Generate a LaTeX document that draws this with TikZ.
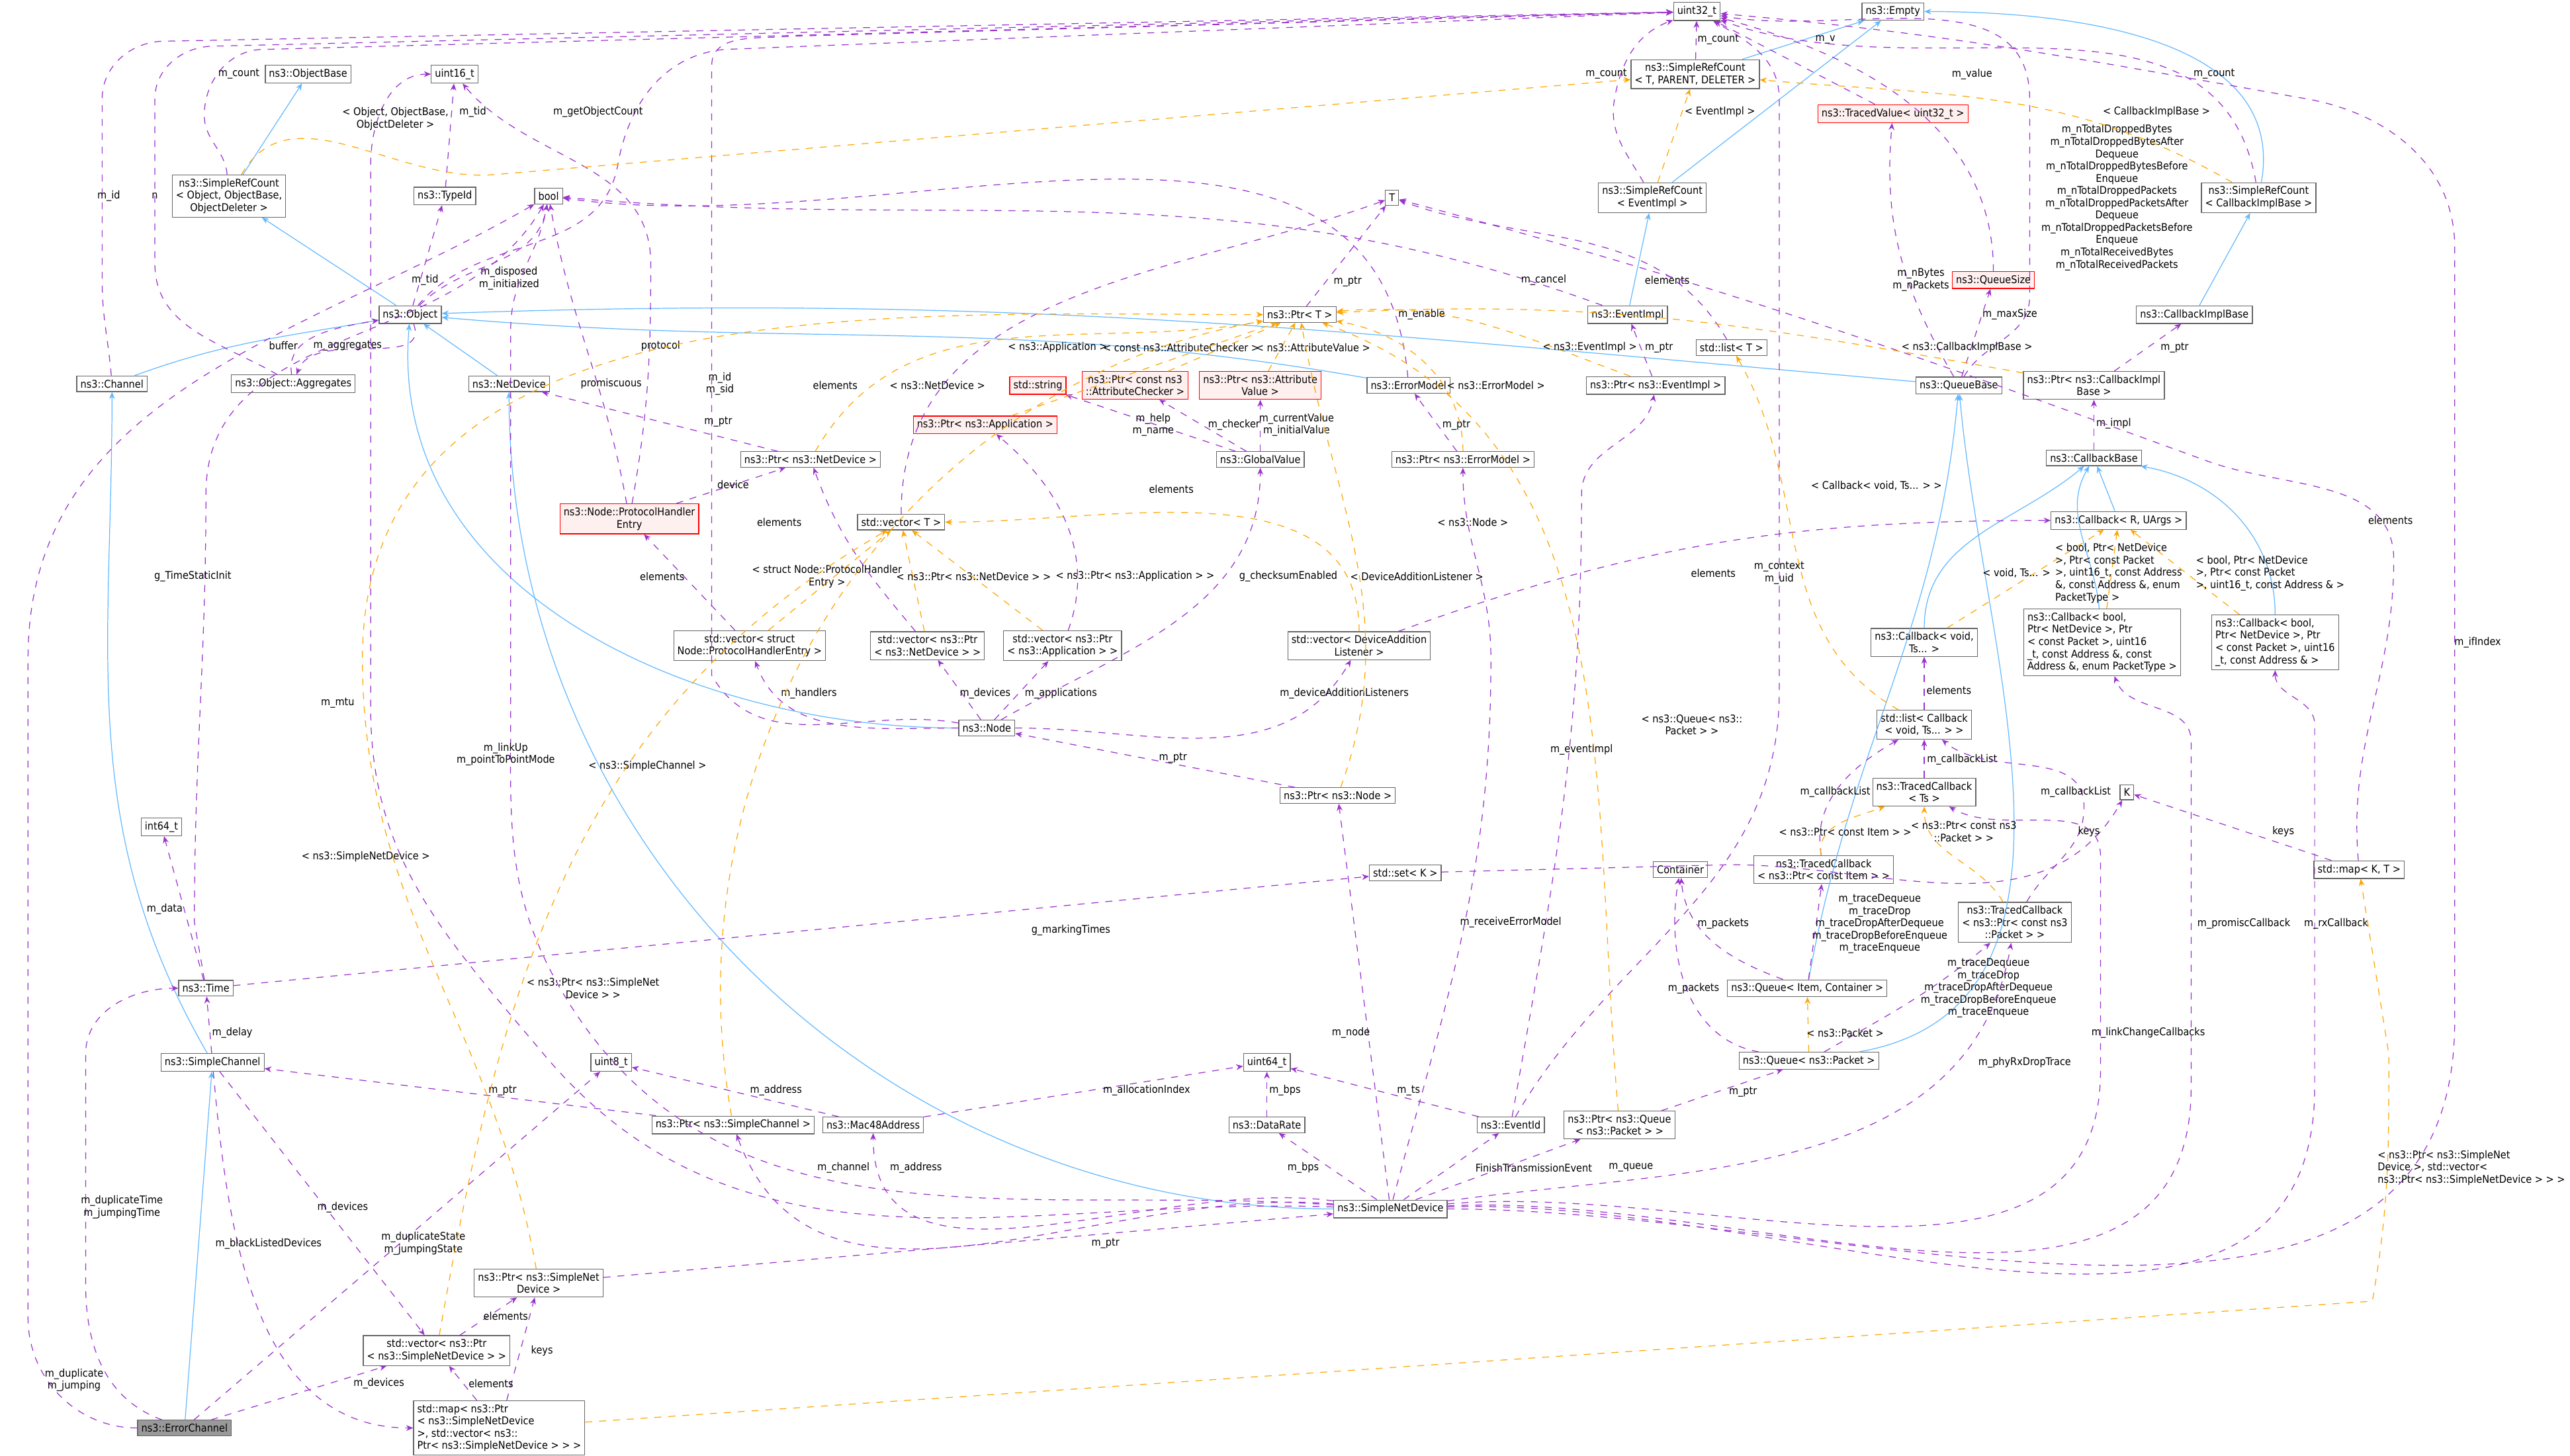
\documentclass[tikz,border=0pt]{standalone}
\usepackage{fontspec}
\setmainfont{DejaVu Sans Condensed}
\usetikzlibrary{arrows.meta}
\definecolor{usec}{HTML}{9A32CD}
\definecolor{tplc}{HTML}{FFA500}
\definecolor{inhc}{HTML}{63B8FF}
\begin{document}
\begin{tikzpicture}[x=0.025cm,y=-0.025cm,
  bx/.style={draw=black!60,fill=white,line width=0.35pt,inner sep=1.6pt,font=\fontsize{4.6}{5.3}\selectfont,align=center},
  rbx/.style={bx,draw=red,fill=red!6},
  gbx/.style={bx,fill=black!40},
  use/.style={draw=usec,dashed,line width=0.35pt,-{Stealth[length=3pt,width=2.5pt]}},
  tpl/.style={draw=tplc,dashed,line width=0.35pt,-{Stealth[length=3pt,width=2.5pt]}},
  inh/.style={draw=inhc,line width=0.35pt,-{Stealth[length=3pt,width=2.5pt]}},
  lbl/.style={font=\fontsize{4.6}{5.3}\selectfont,align=center,inner sep=0.5pt}]
\useasboundingbox (0,0) rectangle (1560,884);
% nodes
\node[bx] (u32) at (1030,7) {uint32\_t};
\node[bx] (empty) at (1149,7) {ns3::Empty};
\node[bx] (srct) at (1029,45) {ns3::SimpleRefCount\\< T, PARENT, DELETER >};
\node[bx] (objb) at (187,45) {ns3::ObjectBase};
\node[bx] (u16) at (276,45) {uint16\_t};
\node[bx] (srco) at (139,119) {ns3::SimpleRefCount\\< Object, ObjectBase,\\ObjectDeleter >};
\node[bx] (tid) at (270,119) {ns3::TypeId};
\node[bx] (bool) at (333,119) {bool};
\node[bx] (T) at (845,120) {T};
\node[rbx] (tv) at (1149,69) {ns3::TracedValue< uint32\_t >};
\node[bx] (srce) at (1003,120) {ns3::SimpleRefCount\\< EventImpl >};
\node[bx] (srcc) at (1371,120) {ns3::SimpleRefCount\\< CallbackImplBase >};
\node[bx] (obj) at (249,191) {ns3::Object};
\node[bx] (chan) at (68,233) {ns3::Channel};
\node[bx] (agg) at (178,233) {ns3::Object::Aggregates};
\node[bx] (nd) at (309,233) {ns3::NetDevice};
\node[bx] (ptrT) at (789,191) {ns3::Ptr< T >};
\node[bx] (evi) at (988,191) {ns3::EventImpl};
\node[rbx] (qs) at (1210,170) {ns3::QueueSize};
\node[bx] (listT) at (1051,211) {std::list< T >};
\node[bx] (cib) at (1332,191) {ns3::CallbackImplBase};
\node[bx] (em) at (855,234) {ns3::ErrorModel};
\node[bx] (pevi) at (1005,234) {ns3::Ptr< ns3::EventImpl >};
\node[bx] (qb) at (1189,234) {ns3::QueueBase};
\node[bx] (pcib) at (1271,234) {ns3::Ptr< ns3::CallbackImpl\\Base >};
\node[rbx] (str) at (630,234) {std::string};
\node[rbx] (pac) at (689,234) {ns3::Ptr< const ns3\\::AttributeChecker >};
\node[rbx] (pav) at (765,234) {ns3::Ptr< ns3::Attribute\\Value >};
\node[bx] (pnd) at (492,279) {ns3::Ptr< ns3::NetDevice >};
\node[rbx] (papp) at (598,258) {ns3::Ptr< ns3::Application >};
\node[bx] (gv) at (765,279) {ns3::GlobalValue};
\node[bx] (pem) at (888,279) {ns3::Ptr< ns3::ErrorModel >};
\node[bx] (cb) at (1271,278) {ns3::CallbackBase};
\node[rbx] (phe) at (382,315) {ns3::Node::ProtocolHandler\\Entry};
\node[bx] (vecT) at (547,317) {std::vector< T >};
\node[bx] (cbr) at (1286,316) {ns3::Callback< R, UArgs >};
\node[bx] (vphe) at (455,392) {std::vector< struct\\Node::ProtocolHandlerEntry >};
\node[bx] (vpnd) at (563,392) {std::vector< ns3::Ptr\\< ns3::NetDevice > >};
\node[bx] (vpapp) at (645,392) {std::vector< ns3::Ptr\\< ns3::Application > >};
\node[bx] (vdal) at (825,392) {std::vector< DeviceAddition\\Listener >};
\node[bx] (cbv) at (1168,390) {ns3::Callback< void,\\Ts... >};
\node[bx,align=left] (cbf) at (1276,390) {ns3::Callback< bool,\\ Ptr< NetDevice >, Ptr\\< const Packet >, uint16\\\_t, const Address \&, const\\ Address \&, enum PacketType >};
\node[bx,align=left] (cb5) at (1381,390) {ns3::Callback< bool,\\ Ptr< NetDevice >, Ptr\\< const Packet >, uint16\\\_t, const Address \& >};
\node[bx] (node) at (599,442) {ns3::Node};
\node[bx] (lcb) at (1168,440) {std::list< Callback\\< void, Ts... > >};
\node[bx] (pnode) at (812,483) {ns3::Ptr< ns3::Node >};
\node[bx] (tcts) at (1168,481) {ns3::TracedCallback\\< Ts >};
\node[bx] (K) at (1291,481) {K};
\node[bx] (i64) at (98,502) {int64\_t};
\node[bx] (setK) at (853,530) {std::set< K >};
\node[bx] (cont) at (1020,528) {Container};
\node[bx] (tci) at (1107,528) {ns3::TracedCallback\\< ns3::Ptr< const Item > >};
\node[bx] (tcp) at (1223,560) {ns3::TracedCallback\\< ns3::Ptr< const ns3\\::Packet > >};
\node[bx] (mapKT) at (1432,528) {std::map< K, T >};
\node[bx] (time) at (125,600) {ns3::Time};
\node[bx] (qic) at (1097,600) {ns3::Queue< Item, Container >};
\node[bx] (sch) at (129,645) {ns3::SimpleChannel};
\node[bx] (u8) at (371,645) {uint8\_t};
\node[bx] (psch) at (445,683) {ns3::Ptr< ns3::SimpleChannel >};
\node[bx] (mac) at (530,683) {ns3::Mac48Address};
\node[bx] (u64) at (769,645) {uint64\_t};
\node[bx] (dr) at (769,683) {ns3::DataRate};
\node[bx] (qp) at (1098,644) {ns3::Queue< ns3::Packet >};
\node[bx] (eid) at (917,683) {ns3::EventId};
\node[bx] (pqp) at (983,683) {ns3::Ptr< ns3::Queue\\< ns3::Packet > >};
\node[bx] (snd) at (844,734) {ns3::SimpleNetDevice};
\node[bx] (psnd) at (327,779) {ns3::Ptr< ns3::SimpleNet\\Device >};
\node[bx] (vpsnd) at (265,820) {std::vector< ns3::Ptr\\< ns3::SimpleNetDevice > >};
\node[gbx] (ech) at (112,867) {ns3::ErrorChannel};
\node[bx,align=left] (mpsnd) at (303,867) {std::map< ns3::Ptr\\< ns3::SimpleNetDevice\\ >, std::vector< ns3::\\Ptr< ns3::SimpleNetDevice > > >};
\coordinate (mpa) at (1440,790);
\coordinate (mpb) at (1450,640);
% inheritance
\draw[inh] (srct) -- (empty);
\draw[inh] (srco) -- (objb);
\draw[inh] (obj) -- (srco);
\draw[inh] (chan) to[out=20,in=190] (obj);
\draw[inh] (nd) -- (obj);
\draw[inh] (node) to[out=180,in=-95] (obj);
\draw[inh] (em) to[out=170,in=-5] (obj);
\draw[inh] (qb) to[out=175,in=2] (obj);
\draw[inh] (srce) -- (empty);
\draw[inh] (evi) -- (srce);
\draw[inh] (srcc) to[out=80,in=0] (empty);
\draw[inh] (cib) -- (srcc);
\draw[inh] (cbr) -- (cb);
\draw[inh] (cbv) to[out=90,in=-140] (cb);
\draw[inh] (cbf) to[out=95,in=-120] (cb);
\draw[inh] (cb5) to[out=90,in=-10] (cb);
\draw[inh] (qic) to[out=80,in=-95] (qb);
\draw[inh] (qp) to[out=10,in=-85] (qb);
\draw[inh] (sch) to[out=120,in=-90] (chan);
\draw[inh] (snd) to[out=180,in=-90] (nd);
\draw[inh] (ech) -- (sch);
% usage
\draw[use] (srct) -- (u32); \node[lbl] at (1043,24) {m\_count};
\draw[use] (srco) to[out=95,in=-90] (124,70) to[out=90,in=180] (160,30) -- (u32); \node[lbl] at (145,45) {m\_count};
\draw[use] (agg) to[out=150,in=-90] (94,160) -- (94,60) to[out=90,in=180] (130,28) -- (u32); \node[lbl] at (94,119) {n};
\draw[use] (chan) to[out=95,in=-90] (62,170) -- (62,60) to[out=90,in=180] (100,25) -- (u32); \node[lbl] at (66,119) {m\_id};
\draw[use] (obj) to[out=45,in=-100] (bool); \node[lbl] at (309,169) {m\_disposed\\m\_initialized};
\draw[use] (obj) -- (tid); \node[lbl] at (258,170) {m\_tid};
\draw[use] (tid) -- (u16); \node[lbl] at (287,68) {m\_tid};
\draw[use] (agg) to[out=100,in=190] (obj); \node[lbl] at (172,210) {buffer};
\draw[use] (obj) to[out=-70,in=70] (agg); \node[lbl] at (211,210) {m\_aggregates};
\draw[use] (obj) to[out=50,in=-100] (375,100) to[out=80,in=185] (440,30) -- (u32); \node[lbl] at (363,68) {m\_getObjectCount};
\draw[use] (tv) -- (u32); \node[lbl] at (1108,24) {m\_v};
\draw[use] (srce) to[out=120,in=-100] (980,60) to[out=80,in=200] (u32); \node[lbl] at (975,45) {m\_count};
\draw[use] (srcc) to[out=100,in=-20] (u32); \node[lbl] at (1344,45) {m\_count};
\draw[use] (qs) to[out=90,in=-15] (u32); \node[lbl] at (1197,45) {m\_value};
\draw[use] (qb) to[out=60,in=-90] (1232,180) -- (1232,60) to[out=90,in=-10] (u32);
\node[lbl] at (1285,120) {m\_nTotalDroppedBytes\\m\_nTotalDroppedBytesAfter\\Dequeue\\m\_nTotalDroppedBytesBefore\\Enqueue\\m\_nTotalDroppedPackets\\m\_nTotalDroppedPacketsAfter\\Dequeue\\m\_nTotalDroppedPacketsBefore\\Enqueue\\m\_nTotalReceivedBytes\\m\_nTotalReceivedPackets};
\draw[use] (qb) to[out=120,in=-95] (tv); \node[lbl] at (1166,170) {m\_nBytes\\m\_nPackets};
\draw[use] (qb) -- (qs); \node[lbl] at (1220,191) {m\_maxSize};
\draw[use] (evi) to[out=160,in=-5] (bool); \node[lbl] at (937,170) {m\_cancel};
\draw[use] (pevi) -- (evi); \node[lbl] at (1007,211) {m\_ptr};
\draw[use] (pcib) -- (cib); \node[lbl] at (1320,211) {m\_ptr};
\draw[use] (cb) -- (pcib); \node[lbl] at (1283,257) {m\_impl};
\draw[use] (ptrT) -- (T); \node[lbl] at (818,171) {m\_ptr};
\draw[use] (listT) to[out=120,in=-20] (T); \node[lbl] at (1012,170) {elements};
\draw[use] (vecT) to[out=90,in=-160] (T); \node[lbl] at (507,234) {elements};
\draw[use] (em) to[out=95,in=-8] (bool); \node[lbl] at (863,191) {m\_enable};
\draw[use] (pem) -- (em); \node[lbl] at (884,258) {m\_ptr};
\draw[use] (gv) -- (str); \node[lbl] at (700,258) {m\_help\\m\_name};
\draw[use] (gv) -- (pac); \node[lbl] at (749,258) {m\_checker};
\draw[use] (gv) -- (pav); \node[lbl] at (787,258) {m\_currentValue\\m\_initialValue};
\draw[use] (pnd) -- (nd); \node[lbl] at (436,256) {m\_ptr};
\draw[use] (phe) to[out=100,in=-80] (bool); \node[lbl] at (371,233) {promiscuous};
\draw[use] (phe) -- (pnd); \node[lbl] at (445,294) {device};
\draw[use] (phe) to[out=80,in=-90] (395,160) to[out=90,in=-50] (u16); \node[lbl] at (401,210) {protocol};
\draw[use] (vphe) -- (phe); \node[lbl] at (402,350) {elements};
\draw[use] (vpnd) to[out=130,in=-70] (pnd); \node[lbl] at (473,317) {elements};
\draw[use] (vpapp) to[out=70,in=-40] (papp); \node[lbl] at (711,297) {elements};
\draw[use] (vdal) to[out=20,in=180] (cbr); \node[lbl] at (1040,348) {elements};
\draw[use] (node) to[out=180,in=-70] (vphe); \node[lbl] at (491,421) {m\_handlers};
\draw[use] (node) -- (vpnd); \node[lbl] at (598,421) {m\_devices};
\draw[use] (node) -- (vpapp); \node[lbl] at (644,421) {m\_applications};
\draw[use] (node) to[out=0,in=-120] (vdal); \node[lbl] at (816,421) {m\_deviceAdditionListeners};
\draw[use] (node) to[out=30,in=-90] (gv); \node[lbl] at (782,350) {g\_checksumEnabled};
\draw[use] (node) to[out=170,in=-60] (432,410) -- (432,40) to[out=90,in=185] (480,22) -- (u32); \node[lbl] at (437,233) {m\_id\\m\_sid};
\draw[use] (pnode) -- (node); \node[lbl] at (712,460) {m\_ptr};
\draw[use] (lcb) -- (cbv); \node[lbl] at (1183,419) {elements};
\draw[use] (tcts) -- (lcb); \node[lbl] at (1191,461) {m\_callbackList};
\draw[use] (tci) to[out=100,in=-150] (lcb); \node[lbl] at (1114,481) {m\_callbackList};
\draw[use] (tcp) to[out=60,in=-90] (1265,490) to[out=90,in=-40] (lcb); \node[lbl] at (1260,481) {m\_callbackList};
\draw[use] (setK) -- (1050,525) to[out=0,in=-120] (K); \node[lbl] at (1268,505) {keys};
\draw[use] (mapKT) -- (K); \node[lbl] at (1386,505) {keys};
\draw[use] (mapKT) to[out=95,in=-90] (1453,340) to[out=90,in=-20] (1340,280) to[out=160,in=-15] (T); \node[lbl] at (1451,316) {elements};
\draw[use] (time) -- (i64); \node[lbl] at (100,552) {m\_data};
\draw[use] (time) -- (setK); \node[lbl] at (650,565) {g\_markingTimes};
\draw[use] (time) -- (118,560) to[out=90,in=-90] (125,300) to[out=90,in=-120] (bool); \node[lbl] at (117,350) {g\_TimeStaticInit};
\draw[use] (sch) -- (time); \node[lbl] at (141,627) {m\_delay};
\draw[use] (sch) -- (vpsnd); \node[lbl] at (208,733) {m\_devices};
\draw[use] (sch) to[out=-85,in=180] (mpsnd); \node[lbl] at (163,755) {m\_blackListedDevices};
\draw[use] (ech) to[out=180,in=-90] (17,800) -- (17,400) to[out=90,in=-150] (bool); \node[lbl] at (45,838) {m\_duplicate\\m\_jumping};
\draw[use] (ech) to[out=160,in=-90] (52,780) -- (52,640) to[out=90,in=180] (time); \node[lbl] at (74,733) {m\_duplicateTime\\m\_jumpingTime};
\draw[use] (ech) -- (u8); \node[lbl] at (257,755) {m\_duplicateState\\m\_jumpingState};
\draw[use] (ech) -- (vpsnd); \node[lbl] at (230,840) {m\_devices};
\draw[use] (psch) -- (sch); \node[lbl] at (305,662) {m\_ptr};
\draw[use] (mac) -- (u8); \node[lbl] at (471,662) {m\_address};
\draw[use] (mac) -- (u64); \node[lbl] at (696,662) {m\_allocationIndex};
\draw[use] (dr) -- (u64); \node[lbl] at (780,662) {m\_bps};
\draw[use] (eid) -- (u64); \node[lbl] at (855,662) {m\_ts};
\draw[use] (eid) to[out=80,in=-90] (960,300) to[out=90,in=-100] (pevi); \node[lbl] at (960,455) {m\_eventImpl};
\draw[use] (eid) to[out=60,in=-90] (1080,420) -- (1080,60) to[out=90,in=-30] (u32); \node[lbl] at (1080,348) {m\_context\\m\_uid};
\draw[use] (pqp) -- (qp); \node[lbl] at (1058,663) {m\_ptr};
\draw[use] (qic) to[out=160,in=-85] (cont); \node[lbl] at (1046,561) {m\_packets};
\draw[use] (qp) to[out=170,in=-100] (cont); \node[lbl] at (1028,600) {m\_packets};
\draw[use] (qic) -- (tci); \node[lbl] at (1141,561) {m\_traceDequeue\\m\_traceDrop\\m\_traceDropAfterDequeue\\m\_traceDropBeforeEnqueue\\m\_traceEnqueue};
\draw[use] (qp) to[out=30,in=-140] (tcp); \node[lbl] at (1207,600) {m\_traceDequeue\\m\_traceDrop\\m\_traceDropAfterDequeue\\m\_traceDropBeforeEnqueue\\m\_traceEnqueue};
\draw[use] (vpsnd) -- (psnd); \node[lbl] at (307,799) {elements};
\draw[use] (mpsnd) -- (psnd); \node[lbl] at (329,820) {keys};
\draw[use] (mpsnd) -- (vpsnd); \node[lbl] at (298,840) {elements};
\draw[use] (psnd) -- (snd); \node[lbl] at (671,755) {m\_ptr};
\draw[use] (snd) to[out=175,in=-70] (psch); \node[lbl] at (512,709) {m\_channel};
\draw[use] (snd) to[out=172,in=-90] (mac); \node[lbl] at (556,709) {m\_address};
\draw[use] (snd) -- (dr); \node[lbl] at (791,709) {m\_bps};
\draw[use] (snd) -- (eid); \node[lbl] at (931,709) {FinishTransmissionEvent};
\draw[use] (snd) -- (pqp); \node[lbl] at (990,709) {m\_queue};
\draw[use] (snd) -- (pnode); \node[lbl] at (820,627) {m\_node};
\draw[use] (snd) to[out=75,in=-90] (905,400) to[out=90,in=-90] (pem); \node[lbl] at (917,560) {m\_receiveErrorModel};
\draw[use] (snd) to[out=8,in=-100] (tcp); \node[lbl] at (1229,645) {m\_phyRxDropTrace};
\draw[use] (snd) to[out=5,in=-90] (1275,650) -- (1275,520) to[out=90,in=-30] (tcts); \node[lbl] at (1304,627) {m\_linkChangeCallbacks};
\draw[use] (snd) to[out=3,in=-90] (1330,660) -- (1330,450) to[out=90,in=-70] (cbf); \node[lbl] at (1362,561) {m\_promiscCallback};
\draw[use] (snd) to[out=2,in=-90] (1405,660) -- (1405,440) to[out=90,in=-90] (cb5); \node[lbl] at (1418,561) {m\_rxCallback};
\draw[use] (snd) to[out=0,in=-90] (1490,620) -- (1490,150) to[out=90,in=-10] (1400,60) to[out=170,in=-5] (u32); \node[lbl] at (1504,390) {m\_ifIndex};
\draw[use] (snd) to[out=178,in=-50] (330,640) to[out=130,in=-90] (225,430) -- (225,100) to[out=90,in=180] (u16); \node[lbl] at (205,427) {m\_mtu};
\draw[use] (snd) to[out=176,in=-60] (340,600) to[out=120,in=-90] (310,430) -- (310,200) to[out=90,in=-100] (bool); \node[lbl] at (307,458) {m\_linkUp\\m\_pointToPointMode};
% templates
\draw[tpl] (srco) to[out=60,in=185] (300,106) -- (srct); \node[lbl] at (240,72) {< Object, ObjectBase,\\ObjectDeleter >};
\draw[tpl] (srce) -- (srct); \node[lbl] at (1044,68) {< EventImpl >};
\draw[tpl] (srcc) to[out=150,in=-5] (srct); \node[lbl] at (1309,68) {< CallbackImplBase >};
\draw[tpl] (pevi) to[out=160,in=5] (ptrT); \node[lbl] at (965,211) {< ns3::EventImpl >};
\draw[tpl] (pcib) to[out=170,in=3] (ptrT); \node[lbl] at (1194,211) {< ns3::CallbackImplBase >};
\draw[tpl] (pem) to[out=90,in=-10] (ptrT); \node[lbl] at (908,234) {< ns3::ErrorModel >};
\draw[tpl] (pac) -- (ptrT); \node[lbl] at (717,211) {< const ns3::AttributeChecker >};
\draw[tpl] (pav) -- (ptrT); \node[lbl] at (797,211) {< ns3::AttributeValue >};
\draw[tpl] (papp) -- (ptrT); \node[lbl] at (642,211) {< ns3::Application >};
\draw[tpl] (pnd) to[out=60,in=190] (ptrT); \node[lbl] at (569,234) {< ns3::NetDevice >};
\draw[tpl] (pnode) to[out=70,in=-80] (ptrT); \node[lbl] at (894,317) {< ns3::Node >};
\draw[tpl] (psch) to[out=100,in=-170] (ptrT); \node[lbl] at (393,465) {< ns3::SimpleChannel >};
\draw[tpl] (psnd) to[out=100,in=-90] (220,400) to[out=90,in=180] (ptrT); \node[lbl] at (222,520) {< ns3::SimpleNetDevice >};
\draw[tpl] (pqp) to[out=95,in=-20] (ptrT); \node[lbl] at (1027,440) {< ns3::Queue< ns3::\\Packet > >};
\draw[tpl] (vphe) -- (vecT); \node[lbl] at (502,350) {< struct Node::ProtocolHandler\\Entry >};
\draw[tpl] (vpnd) -- (vecT); \node[lbl] at (591,350) {< ns3::Ptr< ns3::NetDevice > >};
\draw[tpl] (vpapp) -- (vecT); \node[lbl] at (689,350) {< ns3::Ptr< ns3::Application > >};
\draw[tpl] (vdal) to[out=90,in=0] (vecT); \node[lbl] at (860,350) {< DeviceAdditionListener >};
\draw[tpl] (vpsnd) to[out=80,in=-150] (vecT); \node[lbl] at (360,600) {< ns3::Ptr< ns3::SimpleNet\\Device > >};
\draw[tpl] (lcb) to[out=150,in=-60] (listT); \node[lbl] at (1139,295) {< Callback< void, Ts... > >};
\draw[tpl] (cbv) -- (cbr); \node[lbl] at (1224,348) {< void, Ts... >};
\draw[tpl] (cbf) -- (cbr); \node[lbl,align=left] at (1286,348) {< bool, Ptr< NetDevice\\>, Ptr< const Packet\\>, uint16\_t, const Address\\\&, const Address \&, enum\\PacketType >};
\draw[tpl] (cb5) -- (cbr); \node[lbl,align=left] at (1378,348) {< bool, Ptr< NetDevice\\>, Ptr< const Packet\\>, uint16\_t, const Address \& >};
\draw[tpl] (tci) to[out=100,in=-160] (tcts); \node[lbl] at (1120,505) {< ns3::Ptr< const Item > >};
\draw[tpl] (tcp) to[out=120,in=-90] (tcts); \node[lbl] at (1192,505) {< ns3::Ptr< const ns3\\::Packet > >};
\draw[tpl] (qp) -- (qic); \node[lbl] at (1120,627) {< ns3::Packet >};
\draw[tpl] (mpsnd) -- (mpa) to[out=80,in=-90] (mpb) -- (mapKT); \node[lbl,align=left,anchor=east] at (1558,709) {< ns3::Ptr< ns3::SimpleNet\\Device >, std::vector<\\ns3::Ptr< ns3::SimpleNetDevice > > >};
\end{tikzpicture}
\end{document}
